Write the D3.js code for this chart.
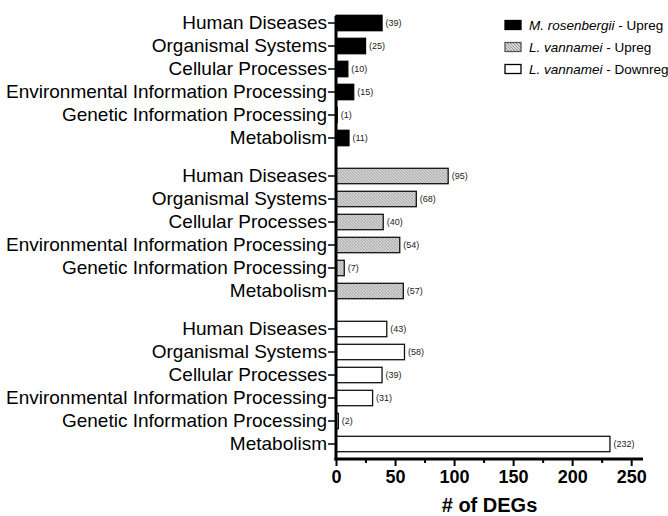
<!DOCTYPE html>
<html>
<head>
<meta charset="utf-8">
<script src="https://cdn.jsdelivr.net/npm/d3@7"></script>
<style>
  body { margin: 0; background: #fff; }
  svg { display: block; font-family: "Liberation Sans", Arial, sans-serif; }
</style>
</head>
<body>
<svg id="chart" width="668" height="516"></svg>
<script>
// KEGG categories, listed top to bottom inside each block
const categories = [
  'Human Diseases',
  'Organismal Systems',
  'Cellular Processes',
  'Environmental Information Processing',
  'Genetic Information Processing',
  'Metabolism'
]

const seriesNames = ['mros_up', 'lvan_up', 'lvan_down']
const speciesLabels = ['M. rosenbergii', 'L. vannamei', 'L. vannamei']
const directionLabels = [' - Upreg', ' - Upreg', ' - Downreg']

const mrosUp = [39, 25, 10, 15, 1, 11]
const lvanUp = [95, 68, 40, 54, 7, 57]
const lvanDown = [43, 58, 39, 31, 2, 232]

const majorTicks = [0, 50, 100, 150, 200, 250]
const minorTicks = [25, 75, 125, 175, 225]
const xMax = 260

const seriesValues = [mrosUp, lvanUp, lvanDown]

const svg = d3.select('#chart')

const defs = svg.append('defs')
const hatch = defs.append('pattern')
  .attr('id', 'hatch')
  .attr('patternUnits', 'userSpaceOnUse')
  .attr('width', 3)
  .attr('height', 3)
hatch.append('rect').attr('width', 3).attr('height', 3).attr('fill', '#fff')
hatch.append('path')
  .attr('d', 'M-1,-1 L4,4 M-1,2 L1,4 M2,-1 L4,1')
  .attr('stroke', '#8f8f8f')
  .attr('stroke-width', 1.2)

const fills = ['#000', 'url(#hatch)', '#fff']
const strokes = ['#000', '#111', '#111']

const x = d3.scaleLinear().domain([0, xMax]).range([336, 643])

const groups = d3.scaleBand()
  .domain(seriesNames)
  .range([11.5, 455.5])
  .paddingInner(15 / 153)

const rows = d3.scaleBand()
  .domain(categories)
  .range([0, groups.bandwidth()])
  .paddingInner(0.33)
  .paddingOuter(0.165)

// bars, value labels and category axis per block
seriesNames.forEach((name, si) => {
  const data = categories.map((c, i) => ({ category: c, value: seriesValues[si][i] }))
  const g = svg.append('g')
    .attr('class', `block ${name}`)
    .attr('transform', `translate(0,${groups(name)})`)

  g.selectAll('rect')
    .data(data)
    .enter()
    .append('rect')
    .attr('x', x(0))
    .attr('y', d => rows(d.category))
    .attr('width', d => x(d.value) - x(0))
    .attr('height', rows.bandwidth())
    .attr('fill', fills[si])
    .attr('stroke', strokes[si])
    .attr('stroke-width', 1.3)

  g.selectAll('text.value')
    .data(data)
    .enter()
    .append('text')
    .attr('class', 'value')
    .attr('x', d => x(d.value) + 3.5)
    .attr('y', d => rows(d.category) + rows.bandwidth() / 2)
    .attr('dy', '0.35em')
    .attr('font-size', 9)
    .attr('fill', '#222')
    .text(d => `(${d.value})`)

  const yAxis = g.append('g')
    .attr('transform', `translate(${x(0)},0)`)
    .call(d3.axisLeft(rows).tickSize(8).tickPadding(1))
  yAxis.select('.domain').remove()
  yAxis.selectAll('line').attr('stroke', '#000').attr('stroke-width', 1.5)
  yAxis.selectAll('text')
    .attr('font-size', 19)
    .attr('font-family', '"Liberation Sans", Arial, sans-serif')
    .attr('fill', '#000')
})

// x axis
const axisY = 459
const xAxis = svg.append('g')
  .attr('transform', `translate(0,${axisY})`)
  .call(d3.axisBottom(x).tickValues(majorTicks).tickSize(7).tickPadding(4).tickFormat(d3.format('d')))
xAxis.select('.domain').remove()
xAxis.selectAll('line').attr('stroke', '#000').attr('stroke-width', 2)
xAxis.selectAll('text')
  .attr('font-size', 18)
  .attr('font-weight', 'bold')
  .attr('font-family', '"Liberation Sans", Arial, sans-serif')
  .attr('fill', '#000')

const xMinor = svg.append('g')
  .attr('transform', `translate(0,${axisY})`)
  .call(d3.axisBottom(x).tickValues(minorTicks).tickSize(4).tickFormat(''))
xMinor.select('.domain').remove()
xMinor.selectAll('line').attr('stroke', '#000').attr('stroke-width', 2)

svg.append('line')
  .attr('x1', x(0) - 1.5).attr('x2', x(xMax))
  .attr('y1', axisY).attr('y2', axisY)
  .attr('stroke', '#000').attr('stroke-width', 3)

svg.append('line')
  .attr('x1', x(0)).attr('x2', x(0))
  .attr('y1', 16).attr('y2', axisY + 1.5)
  .attr('stroke', '#000').attr('stroke-width', 3)

svg.append('text')
  .attr('x', (x(0) + x(xMax)) / 2)
  .attr('y', 512)
  .attr('text-anchor', 'middle')
  .attr('font-size', 20)
  .attr('font-weight', 'bold')
  .text('# of DEGs')

// legend
const legend = svg.append('g').attr('class', 'legend')
const legendRows = [25, 47, 69]
seriesNames.forEach((name, si) => {
  const row = legend.append('g').attr('transform', `translate(505,${legendRows[si]})`)
  row.append('rect')
    .attr('x', 0).attr('y', -4.5)
    .attr('width', 16).attr('height', 9)
    .attr('fill', fills[si])
    .attr('stroke', si === 1 ? '#555' : '#000')
    .attr('stroke-width', 1.3)
  const label = row.append('text')
    .attr('x', 24)
    .attr('dy', '0.36em')
    .attr('font-size', 13.5)
  label.append('tspan').attr('font-style', 'italic').text(speciesLabels[si])
  label.append('tspan').text(directionLabels[si])
})
</script>
</body>
</html>
